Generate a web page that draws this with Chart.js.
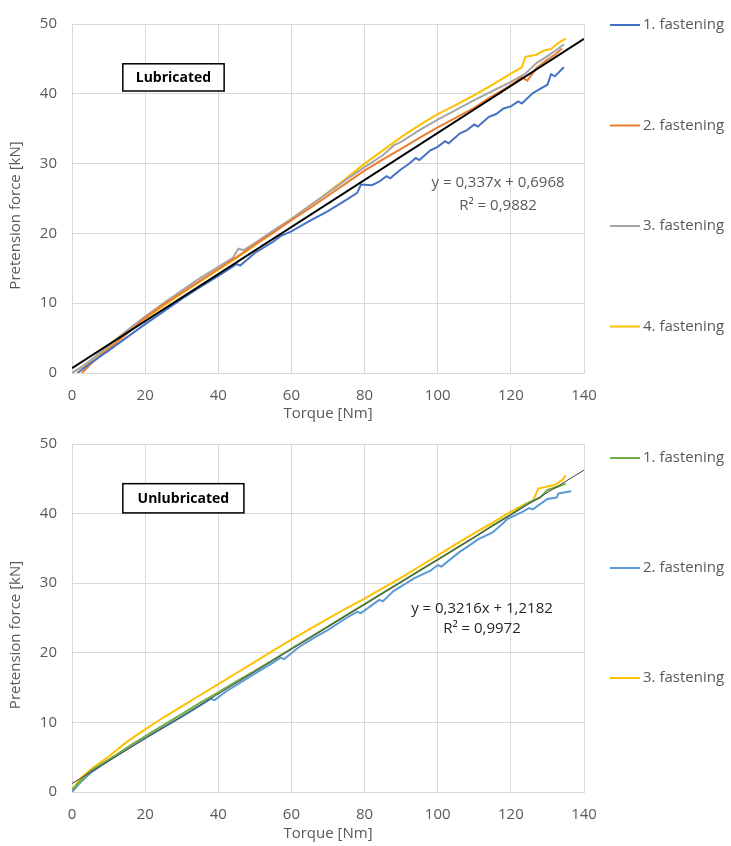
<!DOCTYPE html>
<html>
<head>
<meta charset="utf-8">
<script src="https://cdn.jsdelivr.net/npm/chart.js@4.4.1/dist/chart.umd.min.js"></script>
<style>
  body { margin: 0; background: #fff; }
  #wrap { position: relative; width: 731px; height: 846px; }
  .box { position: absolute; left: 0; width: 731px; }
</style>
</head>
<body>
<div id="wrap">
  <div class="box" style="top:0;height:423px"><canvas id="lubChart"></canvas></div>
  <div class="box" style="top:420px;height:426px"><canvas id="unlubChart"></canvas></div>
</div>
<script>
// --- Lubricated: torque [Nm] vs pretension force [kN]
const lubLabels = ['1. fastening', '2. fastening', '3. fastening', '4. fastening'];
const lubX1 = [1.5, 5, 10, 15, 20, 25, 30, 35, 40, 45, 46, 50, 55, 57, 60, 65, 70, 75, 78, 79, 82, 84, 86, 87, 90, 92, 94, 95, 98, 100, 102, 103, 106, 108, 110, 111, 114, 116, 118, 120, 122, 123, 126, 128, 130, 131, 132, 134.5];
const lubY1 = [0, 1.4, 3.2, 5.1, 7.0, 8.8, 10.6, 12.3, 13.9, 15.6, 15.4, 17.2, 18.8, 19.6, 20.3, 21.8, 23.2, 24.8, 25.8, 27.0, 26.9, 27.4, 28.2, 27.9, 29.2, 29.9, 30.8, 30.5, 31.9, 32.4, 33.2, 32.9, 34.3, 34.8, 35.6, 35.3, 36.7, 37.1, 37.9, 38.2, 38.9, 38.6, 40.1, 40.7, 41.3, 42.8, 42.5, 43.8];
const lubX2 = [2.7, 5, 8, 12, 16, 20, 25, 30, 35, 40, 45, 50, 55, 60, 65, 70, 75, 80, 85, 90, 95, 100, 105, 110, 114, 118, 121, 123, 124.5, 127, 130, 132, 134];
const lubY2 = [0, 1.2, 2.6, 4.3, 6.1, 7.9, 9.8, 11.5, 13.2, 14.9, 16.6, 18.4, 20.1, 21.9, 23.6, 25.4, 27.2, 29.0, 30.6, 32.1, 33.7, 35.2, 36.6, 38.0, 39.4, 40.6, 41.6, 42.4, 41.9, 43.7, 44.9, 45.6, 46.5];
const lubX3 = [0, 3, 6, 10, 15, 20, 25, 30, 35, 40, 44, 45.5, 47, 50, 55, 60, 65, 70, 75, 80, 85, 88, 90, 95, 100, 105, 110, 115, 120, 124, 127, 130, 132, 134.5];
const lubY3 = [0, 1.0, 2.2, 3.9, 6.1, 8.1, 10.0, 11.8, 13.6, 15.2, 16.5, 17.8, 17.6, 18.6, 20.4, 22.1, 24.0, 25.8, 27.7, 29.5, 31.2, 32.6, 33.1, 34.8, 36.3, 37.7, 39.1, 40.4, 41.7, 42.9, 44.4, 45.4, 46.1, 47.1];
const lubX4 = [0, 3, 6, 10, 15, 20, 25, 30, 35, 40, 45, 50, 55, 60, 65, 70, 75, 80, 85, 90, 95, 100, 105, 110, 115, 120, 123, 124, 127, 129, 131, 133, 135];
const lubY4 = [0, 0.9, 2.1, 3.8, 5.8, 7.8, 9.6, 11.4, 13.1, 14.8, 16.5, 18.3, 20.1, 22.0, 23.9, 25.9, 27.9, 30.0, 31.9, 33.8, 35.5, 37.1, 38.4, 39.8, 41.3, 42.9, 43.8, 45.3, 45.6, 46.2, 46.4, 47.3, 47.9];
const lubTrend = [0.337, 0.6968]; // slope, intercept
const lubEq = ['y = 0,337x + 0,6968', 'R² = 0,9882'];

// --- Unlubricated
const unlubLabels = ['1. fastening', '2. fastening', '3. fastening'];
const unlubX1 = [0, 2, 5, 8, 12, 16, 20, 25, 30, 35, 40, 45, 50, 55, 60, 65, 70, 75, 80, 85, 90, 95, 100, 105, 110, 115, 120, 125, 128, 130, 133, 135];
const unlubY1 = [0.3, 1.4, 3.0, 4.0, 5.3, 6.7, 8.0, 9.6, 11.2, 12.8, 14.3, 15.9, 17.4, 19.0, 20.6, 22.2, 23.8, 25.4, 27.0, 28.6, 30.2, 31.8, 33.4, 35.0, 36.6, 38.3, 39.9, 41.6, 42.3, 43.4, 43.9, 44.3];
const unlubX2 = [0, 2, 5, 8, 12, 16, 20, 25, 30, 35, 38, 39, 42, 45, 50, 55, 57, 58, 62, 66, 70, 75, 78, 79, 84, 85, 88, 92, 93.5, 98, 100, 101, 106, 110, 111, 115, 118, 119, 123, 125, 126, 130, 132.5, 133, 136.5];
const unlubY2 = [0, 1.2, 2.7, 3.8, 5.2, 6.5, 7.8, 9.3, 10.8, 12.4, 13.4, 13.2, 14.4, 15.4, 17.0, 18.6, 19.3, 19.1, 20.8, 22.1, 23.3, 25.0, 25.9, 25.7, 27.6, 27.4, 28.9, 30.2, 30.7, 31.8, 32.6, 32.4, 34.5, 35.9, 36.3, 37.3, 38.7, 39.2, 40.2, 40.8, 40.6, 42.1, 42.3, 42.9, 43.2];
const unlubX3 = [0, 0.5, 1.5, 3, 6, 10, 15, 20, 25, 30, 35, 40, 45, 50, 55, 60, 65, 70, 75, 80, 85, 90, 95, 100, 105, 110, 115, 120, 124, 126, 127.5, 130, 132, 134, 135];
const unlubY3 = [0, 0.6, 1.4, 2.3, 3.6, 5.1, 7.2, 9.0, 10.7, 12.3, 13.9, 15.5, 17.1, 18.7, 20.3, 21.9, 23.4, 24.9, 26.4, 27.8, 29.3, 30.8, 32.4, 34.0, 35.6, 37.2, 38.7, 40.3, 41.4, 41.8, 43.6, 43.9, 44.1, 44.8, 45.5];
const unlubTrend = [0.3216, 1.2182];
const unlubEq = ['y = 0,3216x + 1,2182', 'R² = 0,9972'];

const xRange = [0, 140];
const FONT = '"Open Sans", "Liberation Sans", sans-serif';

function pts(xs, ys) {
    return xs.map((x, i) => ({ x: x, y: ys[i] }));
}

function trendPts(t) {
    return xRange.map(x => ({ x: x, y: t[0] * x + t[1] }));
}

function series(label, xs, ys, color) {
    return { label: label, data: pts(xs, ys), borderColor: color, borderWidth: 2, showLine: true, pointRadius: 0, tension: 0 };
}

const extras = {
    id: 'extras',
    afterDatasetsDraw(chart, args, o) {
        const ctx = chart.ctx, xs = chart.scales.x, ys = chart.scales.y, area = chart.chartArea;
        ctx.save();
        // label box
        const x1 = xs.getPixelForValue(o.box[0]), x2 = xs.getPixelForValue(o.box[1]);
        const y1 = ys.getPixelForValue(o.box[2]), y2 = ys.getPixelForValue(o.box[3]);
        ctx.fillStyle = '#fff';
        ctx.fillRect(x1, y1, x2 - x1, y2 - y1);
        ctx.strokeStyle = '#000';
        ctx.lineWidth = 1.5;
        ctx.strokeRect(x1, y1, x2 - x1, y2 - y1);
        ctx.fillStyle = '#000';
        ctx.font = 'bold 14px ' + FONT;
        ctx.textAlign = 'center';
        ctx.textBaseline = 'middle';
        ctx.fillText(o.label, (x1 + x2) / 2, (y1 + y2) / 2 + 1);
        // trendline equation
        ctx.font = '15px ' + FONT;
        ctx.fillStyle = o.eqColor;
        const ex = xs.getPixelForValue(o.eqAt[0]), ey = ys.getPixelForValue(o.eqAt[1]);
        o.eq.forEach((t, i) => ctx.fillText(t, ex, ey + i * o.eqGap));
        // y axis title
        ctx.fillStyle = '#595959';
        ctx.translate(16, (area.top + area.bottom) / 2 + 17);
        ctx.rotate(-Math.PI / 2);
        ctx.fillText('Pretension force [kN]', 0, 0);
        ctx.restore();
    },
    afterDraw(chart, args, o) {
        const ctx = chart.ctx;
        ctx.save();
        ctx.font = '15px ' + FONT;
        ctx.textBaseline = 'middle';
        ctx.textAlign = 'left';
        let n = 0;
        chart.data.datasets.forEach(ds => {
            if (ds.trend) return;
            const y = o.legendTop + n * o.legendStep;
            ctx.strokeStyle = ds.borderColor;
            ctx.lineWidth = 2;
            ctx.beginPath();
            ctx.moveTo(610, y);
            ctx.lineTo(640, y);
            ctx.stroke();
            ctx.fillStyle = '#595959';
            ctx.fillText(ds.label, 643, y);
            n++;
        });
        ctx.restore();
    }
};

function makeChart(id, datasets, ex, axisH, titlePad) {
    return new Chart(document.getElementById(id).getContext('2d'), {
        type: 'scatter',
        data: { datasets: datasets },
        plugins: [extras],
        options: {
            responsive: true,
            maintainAspectRatio: false,
            animation: false,
            layout: { padding: { top: 23, right: 147, left: 0, bottom: 0 } },
            plugins: {
                legend: { display: false },
                tooltip: { enabled: false },
                extras: ex
            },
            scales: {
                x: {
                    type: 'linear', min: 0, max: 140,
                    ticks: { stepSize: 20, padding: 14, color: '#595959', font: { family: FONT, size: 15 } },
                    grid: { color: '#d9d9d9', drawTicks: false },
                    border: { color: '#d9d9d9' },
                    title: { display: true, text: 'Torque [Nm]', color: '#595959', font: { family: FONT, size: 15 }, padding: { top: 0, bottom: titlePad } },
                    afterFit: s => { s.height = axisH; }
                },
                y: {
                    type: 'linear', min: 0, max: 50,
                    ticks: { stepSize: 10, padding: 15, color: '#595959', font: { family: FONT, size: 15 } },
                    grid: { color: '#d9d9d9', drawTicks: false },
                    border: { color: '#d9d9d9' },
                    afterFit: s => { s.width = 72; }
                }
            }
        }
    });
}

makeChart('lubChart', [
    { label: 'trend', trend: true, data: trendPts(lubTrend), borderColor: '#000', borderWidth: 2, showLine: true, pointRadius: 0 },
    series(lubLabels[0], lubX1, lubY1, '#4472c4'),
    series(lubLabels[1], lubX2, lubY2, '#ed7d31'),
    series(lubLabels[2], lubX3, lubY3, '#a5a5a5'),
    series(lubLabels[3], lubX4, lubY4, '#ffc000')
], {
    label: 'Lubricated', box: [13.9, 41.6, 44.3, 40.4],
    eq: lubEq, eqAt: [116.5, 27.3], eqGap: 23, eqColor: '#595959',
    legendTop: 25, legendStep: 100.5
}, 50, 0);

makeChart('unlubChart', [
    { label: 'trend', trend: true, data: trendPts(unlubTrend), borderColor: '#404040', borderWidth: 1, showLine: true, pointRadius: 0 },
    series(unlubLabels[0], unlubX1, unlubY1, '#70ad47'),
    series(unlubLabels[1], unlubX2, unlubY2, '#5b9bd5'),
    series(unlubLabels[2], unlubX3, unlubY3, '#ffc000')
], {
    label: 'Unlubricated', box: [13.9, 47.0, 44.3, 40.1],
    eq: unlubEq, eqAt: [112.1, 26.4], eqGap: 20, eqColor: '#262626',
    legendTop: 38, legendStep: 110
}, 54, 3);
</script>
</body>
</html>
